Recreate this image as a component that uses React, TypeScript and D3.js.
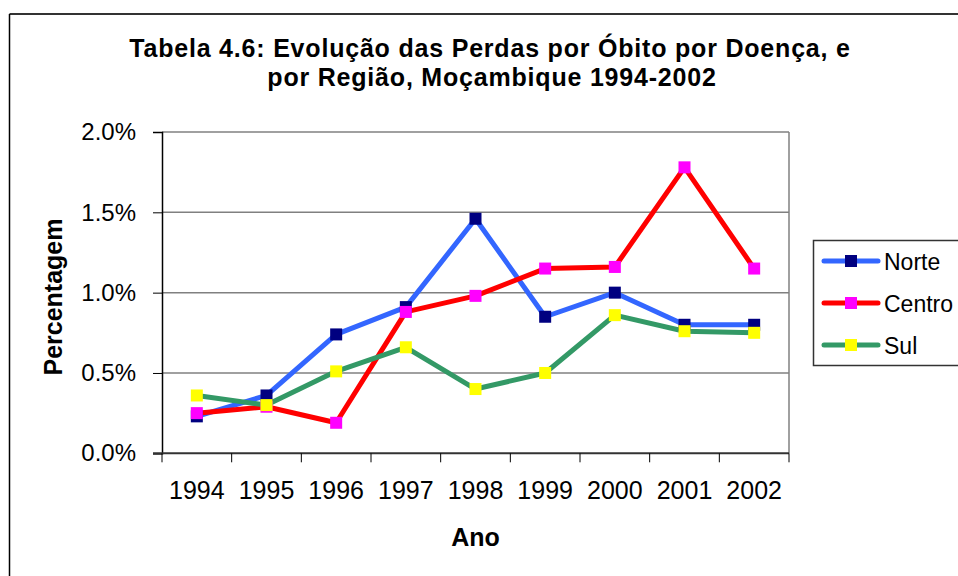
import React, { useRef, useEffect } from "react";
import * as d3 from "d3";

export const years = ["1994", "1995", "1996", "1997", "1998", "1999", "2000", "2001", "2002"];
export const norte = [0.23, 0.36, 0.74, 0.91, 1.46, 0.85, 1.0, 0.8, 0.8];
export const centro = [0.25, 0.29, 0.19, 0.88, 0.98, 1.15, 1.16, 1.78, 1.15];
export const sul = [0.36, 0.3, 0.51, 0.66, 0.4, 0.5, 0.86, 0.76, 0.75];
export const yTicks = [0, 0.5, 1.0, 1.5, 2.0];

const series = [
  { name: "Norte", values: norte, line: "#3366FF", marker: "#000080" },
  { name: "Centro", values: centro, line: "#FF0000", marker: "#FF00FF" },
  { name: "Sul", values: sul, line: "#339966", marker: "#FFFF00" },
];

const FONT = "Arial, 'Liberation Sans', sans-serif";

const App = () => {
  const ref = useRef<SVGSVGElement>(null);

  useEffect(() => {
    const width = 958;
    const height = 576;
    const left = 162;
    const right = 789;
    const top = 132;
    const bottom = 453.3;

    const svg = d3.select(ref.current).attr("width", width).attr("height", height);
    svg.selectAll("*").remove();

    svg.append("rect").attr("width", width).attr("height", height).attr("fill", "#fff");

    // outer chart border (only top and left are visible)
    svg.append("line").attr("x1", 9.5).attr("x2", width).attr("y1", 14).attr("y2", 14)
      .attr("stroke", "#333").attr("stroke-width", 2);
    svg.append("line").attr("x1", 9.5).attr("x2", 9.5).attr("y1", 14).attr("y2", height)
      .attr("stroke", "#000").attr("stroke-width", 1.5);

    const x = d3.scaleBand().domain(years).range([left, right]);
    const y = d3.scaleLinear().domain([0, 2]).range([bottom, top]);

    // gridlines
    svg.append("g")
      .selectAll("line")
      .data(yTicks.filter((t) => t > 0))
      .enter()
      .append("line")
      .attr("x1", left).attr("x2", right)
      .attr("y1", (d) => y(d)).attr("y2", (d) => y(d))
      .attr("stroke", "#808080").attr("stroke-width", 1.5);

    // right border of the plot area
    svg.append("line").attr("x1", right).attr("x2", right).attr("y1", top).attr("y2", bottom)
      .attr("stroke", "#808080").attr("stroke-width", 1.5);

    // y axis
    const yAxis = svg.append("g").attr("transform", `translate(${left},0)`)
      .call(d3.axisLeft(y).tickValues(yTicks).tickSize(9).tickFormat((d) => d3.format(".1f")(d as number) + "%"));
    yAxis.select(".domain").attr("stroke", "#000").attr("stroke-width", 1.5);
    yAxis.selectAll(".tick line").attr("stroke", "#000");
    yAxis.selectAll("text")
      .attr("x", -26)
      .attr("font-size", 24).attr("font-family", FONT).attr("fill", "#000");

    // x axis
    const boundaries = years.map((yr) => x(yr) as number).concat([right]);
    svg.append("line").attr("x1", left - 9).attr("x2", right).attr("y1", bottom).attr("y2", bottom)
      .attr("stroke", "#333").attr("stroke-width", 2);
    svg.append("g")
      .selectAll("line")
      .data(boundaries)
      .enter()
      .append("line")
      .attr("x1", (d) => d).attr("x2", (d) => d)
      .attr("y1", bottom).attr("y2", bottom + 9)
      .attr("stroke", "#000").attr("stroke-width", 1);
    svg.append("g")
      .selectAll("text")
      .data(years)
      .enter()
      .append("text")
      .attr("x", (d) => (x(d) as number) + x.bandwidth() / 2)
      .attr("y", 499)
      .attr("text-anchor", "middle")
      .attr("font-size", 25).attr("font-family", FONT)
      .text((d) => d);

    // lines + markers
    const line = d3.line<number>()
      .x((_, i) => (x(years[i]) as number) + x.bandwidth() / 2)
      .y((d) => y(d));

    series.forEach((s) => {
      svg.append("path")
        .attr("d", line(s.values))
        .attr("fill", "none")
        .attr("stroke", s.line)
        .attr("stroke-width", 5)
        .attr("stroke-linejoin", "round");
    });
    series.forEach((s) => {
      svg.append("g")
        .selectAll("rect")
        .data(s.values)
        .enter()
        .append("rect")
        .attr("x", (_, i) => (x(years[i]) as number) + x.bandwidth() / 2 - 6)
        .attr("y", (d) => y(d) - 6)
        .attr("width", 12).attr("height", 12)
        .attr("fill", s.marker);
    });

    // titles
    const title = svg.append("text")
      .attr("text-anchor", "middle")
      .attr("font-size", 25).attr("font-weight", "bold").attr("font-family", FONT)
      .attr("letter-spacing", 0.8);
    title.append("tspan").attr("x", 490).attr("y", 57).text("Tabela 4.6: Evolução das Perdas por Óbito por Doença, e");
    title.append("tspan").attr("x", 492).attr("y", 86).text("por Região, Moçambique 1994-2002");

    svg.append("text")
      .attr("transform", `translate(62, 297) rotate(-90)`)
      .attr("text-anchor", "middle")
      .attr("font-size", 25).attr("font-weight", "bold").attr("font-family", FONT)
      .text("Percentagem");

    svg.append("text")
      .attr("x", (left + right) / 2)
      .attr("y", 546)
      .attr("text-anchor", "middle")
      .attr("font-size", 25).attr("font-weight", "bold").attr("font-family", FONT)
      .text("Ano");

    // legend
    const lg = svg.append("g");
    lg.append("rect").attr("x", 813.5).attr("y", 240.5).attr("width", 170).attr("height", 125)
      .attr("fill", "#fff").attr("stroke", "#333").attr("stroke-width", 1.5);
    series.forEach((s, i) => {
      const cy = 261 + i * 42;
      lg.append("line").attr("x1", 824).attr("x2", 878).attr("y1", cy).attr("y2", cy)
        .attr("stroke", s.line).attr("stroke-width", 5).attr("stroke-linecap", "round");
      lg.append("rect").attr("x", 845).attr("y", cy - 6).attr("width", 12).attr("height", 12)
        .attr("fill", s.marker);
      lg.append("text").attr("x", 884).attr("y", cy + 8.5)
        .attr("font-size", 23).attr("font-family", FONT)
        .text(s.name);
    });
  }, []);

  return <svg ref={ref} style={{ position: "absolute", left: 0, top: 0 }}></svg>;
};

export default App;
